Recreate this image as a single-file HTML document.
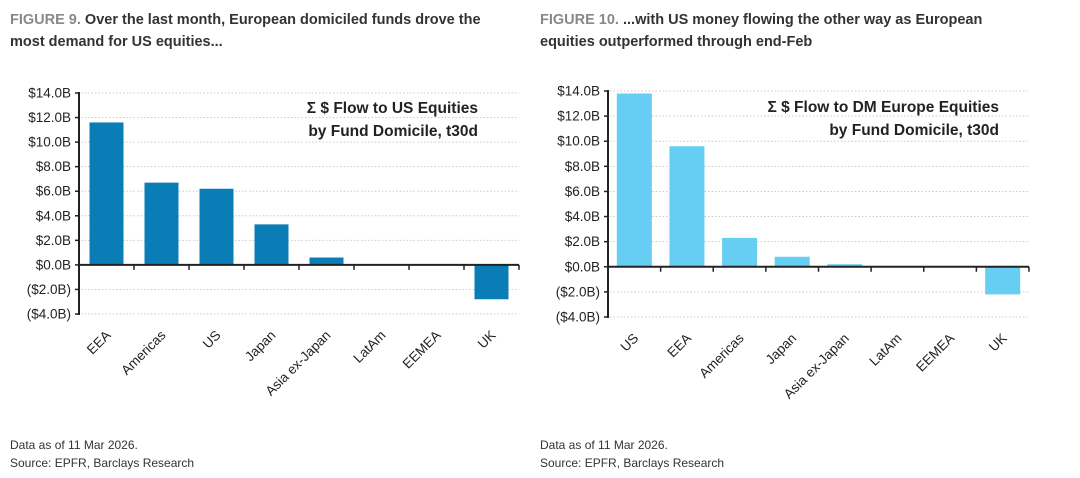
<!DOCTYPE html>
<html><head><meta charset="utf-8"><style>
body{margin:0;background:#fff;font-family:"Liberation Sans",sans-serif;}
.t{position:absolute;font-size:14.5px;font-weight:bold;color:#333;line-height:22px;}
.t b{color:#888}
.f{position:absolute;font-size:12px;color:#333;line-height:18px;}
</style></head><body>
<div style="position:relative;width:1080px;height:478px;overflow:hidden">
<div class="t" style="left:10px;top:9px;width:500px"><b>FIGURE 9.</b> Over the last month, European domiciled funds drove the most demand for US equities...</div>
<div class="t" style="left:540px;top:9px;width:490px"><b>FIGURE 10.</b> ...with US money flowing the other way as European equities outperformed through end-Feb</div>
<div class="f" style="left:10px;top:436px">Data as of 11 Mar 2026.<br>Source: EPFR, Barclays Research</div>
<div class="f" style="left:540px;top:436px">Data as of 11 Mar 2026.<br>Source: EPFR, Barclays Research</div>
<svg id="svg" width="1080" height="478" style="position:absolute;left:0;top:0"></svg>
</div>
<script>
const ticks=[14,12,10,8,6,4,2,0,-2,-4];
const tickLabels=["$14.0B","$12.0B","$10.0B","$8.0B","$6.0B","$4.0B","$2.0B","$0.0B","($2.0B)","($4.0B)"];
const cats1=["EEA","Americas","US","Japan","Asia ex-Japan","LatAm","EEMEA","UK"];
const vals1=[11.6,6.7,6.2,3.3,0.6,0,0,-2.8];
const cats2=["US","EEA","Americas","Japan","Asia ex-Japan","LatAm","EEMEA","UK"];
const vals2=[13.8,9.6,2.3,0.8,0.2,0,0,-2.2];
const NS="http://www.w3.org/2000/svg";
const svg=document.getElementById('svg');
function mk(tag,a,name){const e=document.createElementNS(NS,tag);for(const k in a)e.setAttribute(k,a[k]);


svg.appendChild(e);return e;}
function chart(o){
 const y=v=>o.y0+(o.y1-o.y0)*(14-v)/18;
 const bw=(o.x1-o.x0)/o.cats.length;
 ticks.forEach((t,i)=>{
  if(t!==0)mk('line',{x1:o.x0+2,x2:o.x1,y1:y(t),y2:y(t),stroke:'#ccc','stroke-dasharray':'1.5,2'},'gridline');
  mk('line',{x1:o.x0-4,x2:o.x0,y1:y(t),y2:y(t),stroke:'#222','stroke-width':1.5},'y-tick');
  const tx=mk('text',{x:o.x0-8,y:y(t)+4.5,'text-anchor':'end','font-size':13.5,fill:'#222','font-family':'Liberation Sans'},'y-tick-label');tx.textContent=tickLabels[i];
 });
 o.vals.forEach((v,i)=>{
  const cx=o.x0+bw*(i+0.5);
  if(v!==0)mk('rect',{x:cx-o.bar/2,width:o.bar,y:Math.min(y(v),y(0)),height:Math.abs(y(v)-y(0)),fill:o.color},'bar-'+o.cats[i].toLowerCase().replace(/ /g,'-'));
  mk('line',{x1:o.x0+bw*(i+1),x2:o.x0+bw*(i+1),y1:y(0),y2:y(0)+5,stroke:'#222','stroke-width':1.5},'x-tick');
  const tx=mk('text',{x:cx+5,y:y(-4)+22,'text-anchor':'end','font-size':13.5,fill:'#222','font-family':'Liberation Sans',transform:`rotate(-45 ${cx+5} ${y(-4)+22})`},'x-tick-label');tx.textContent=o.cats[i];
 });
 mk('line',{x1:o.x0,x2:o.x0,y1:y(14)-1,y2:y(-4)+1,stroke:'#222','stroke-width':2},'y-axis');
 mk('line',{x1:o.x0,x2:o.x1,y1:y(0),y2:y(0),stroke:'#222','stroke-width':2},'x-axis');
 o.title.forEach((s,i)=>{const tx=mk('text',{x:o.tx,y:o.ty+i*23,'text-anchor':'end','font-size':15.5,'font-weight':'bold',fill:'#222','font-family':'Liberation Sans'},'chart-inner-title');tx.textContent=s;});
}
chart({x0:79,x1:519,y0:93,y1:314,cats:cats1,vals:vals1,color:'#0a7db6',bar:34,title:["Σ $ Flow to US Equities","by Fund Domicile, t30d"],tx:478,ty:113});
chart({x0:608,x1:1029,y0:91,y1:317,cats:cats2,vals:vals2,color:'#66cdf3',bar:35,title:["Σ $ Flow to DM Europe Equities","by Fund Domicile, t30d"],tx:999,ty:112});
</script>
</body></html>
